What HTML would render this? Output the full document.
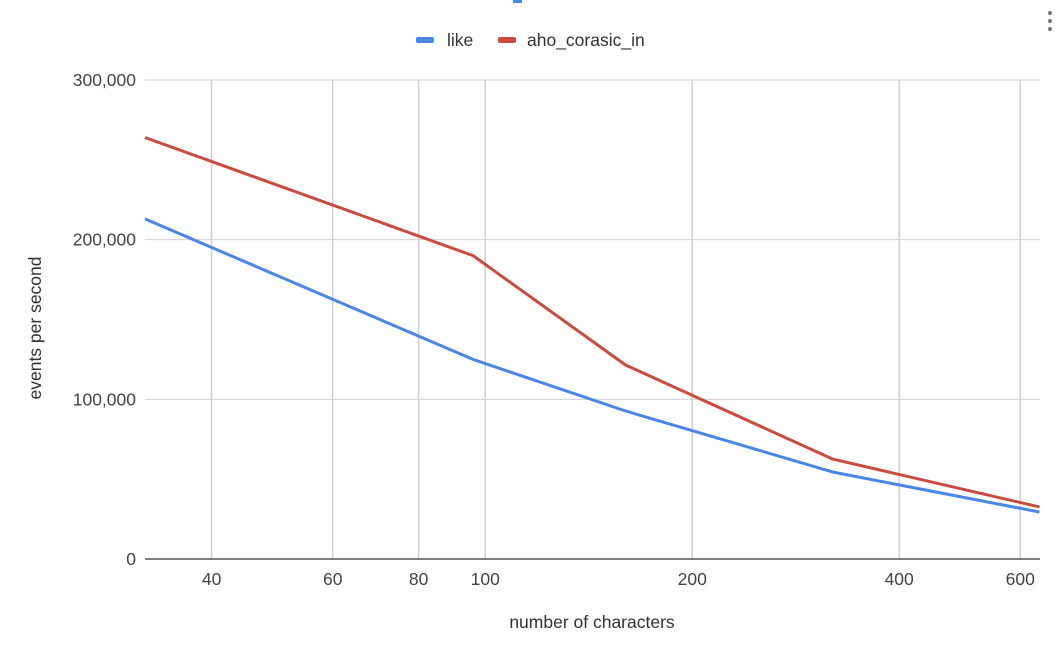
<!DOCTYPE html>
<html><head><meta charset="utf-8"><style>
body{margin:0;background:#fff;font-family:"Liberation Sans",Arial,sans-serif;}
svg text{font-family:"Liberation Sans",Arial,sans-serif;}
</style></head><body>
<svg id="chart" width="1060" height="654" viewBox="0 0 1060 654" xmlns="http://www.w3.org/2000/svg">
<rect width="1060" height="654" fill="#fff"/>
<rect x="513" y="0" width="9" height="3" fill="#4a86e8"/>
<g fill="#777"><circle cx="1050" cy="13" r="2"/><circle cx="1050" cy="21" r="2"/><circle cx="1050" cy="29" r="2"/></g>
<g>
<g><rect x="416" y="37" width="18" height="6" rx="2" fill="#4a86e8"/><text x="447" y="46" font-size="17.5" fill="#333">like</text></g>
<g><rect x="498" y="37" width="18" height="6" rx="2" fill="#cc4b3f"/><text x="527" y="46" font-size="17.5" fill="#333">aho_corasic_in</text></g>
</g>
<g id="grid"></g><g id="axes"></g><g id="series"></g>
<text transform="translate(41,328) rotate(-90)" text-anchor="middle" font-size="17.5" fill="#333">events per second</text>
<text x="592" y="628" text-anchor="middle" font-size="17.5" fill="#333">number of characters</text>
</svg>
<script>
const xValues=[32,96,160,320,640];
const likeValues=[213000,125000,92700,54500,29400];
const ahoValues=[264000,190000,121500,62600,32600];
const xTicks=[40,60,80,100,200,400,600];
const xTickLabels=["40","60","80","100","200","400","600"];
const yTicks=[0,100000,200000,300000];
const yTickLabels=["0","100,000","200,000","300,000"];
const NS="http://www.w3.org/2000/svg";
const L=145,R=1040,T=80,B=559;
const xMin=Math.log10(32),xMax=Math.log10(641);
function xs(v){return L+(Math.log10(v)-xMin)/(xMax-xMin)*(R-L);}
function ys(v){return B-v/300000*(B-T);}
function mk(tag,attrs,parent){const e=document.createElementNS(NS,tag);for(const k in attrs)e.setAttribute(k,attrs[k]);parent.appendChild(e);return e;}
const grid=document.getElementById('grid'),axes=document.getElementById('axes'),series=document.getElementById('series');
xTicks.forEach((t,i)=>{
 const l=mk('line',{x1:xs(t),x2:xs(t),y1:T,y2:B,stroke:'#d0d0d0','stroke-width':1.5},grid);
 
 
 const tx=mk('text',{x:xs(t),y:585,'text-anchor':'middle','font-size':17.5,fill:'#444'},axes);
 tx.textContent=xTickLabels[i];
 
 
});
yTicks.forEach((t,i)=>{
 const l=mk('line',{x1:L,x2:R,y1:ys(t),y2:ys(t),stroke:t===0?'#333':'#d0d0d0','stroke-width':t===0?1.3:1},grid);
 
 
 const tx=mk('text',{x:136,y:ys(t)+6,'text-anchor':'end','font-size':17.5,fill:'#444'},axes);
 tx.textContent=yTickLabels[i];
 
 
});
function line(vals,color,name){
 const p=mk('polyline',{points:xValues.map((x,i)=>xs(x)+','+ys(vals[i])).join(' '),fill:'none',stroke:color,'stroke-width':3,'stroke-linejoin':'round'},series);
 
 
}
line(likeValues,'#4a86e8','like-line');
line(ahoValues,'#cc4b3f','aho-corasic-in-line');
</script>
</body></html>
